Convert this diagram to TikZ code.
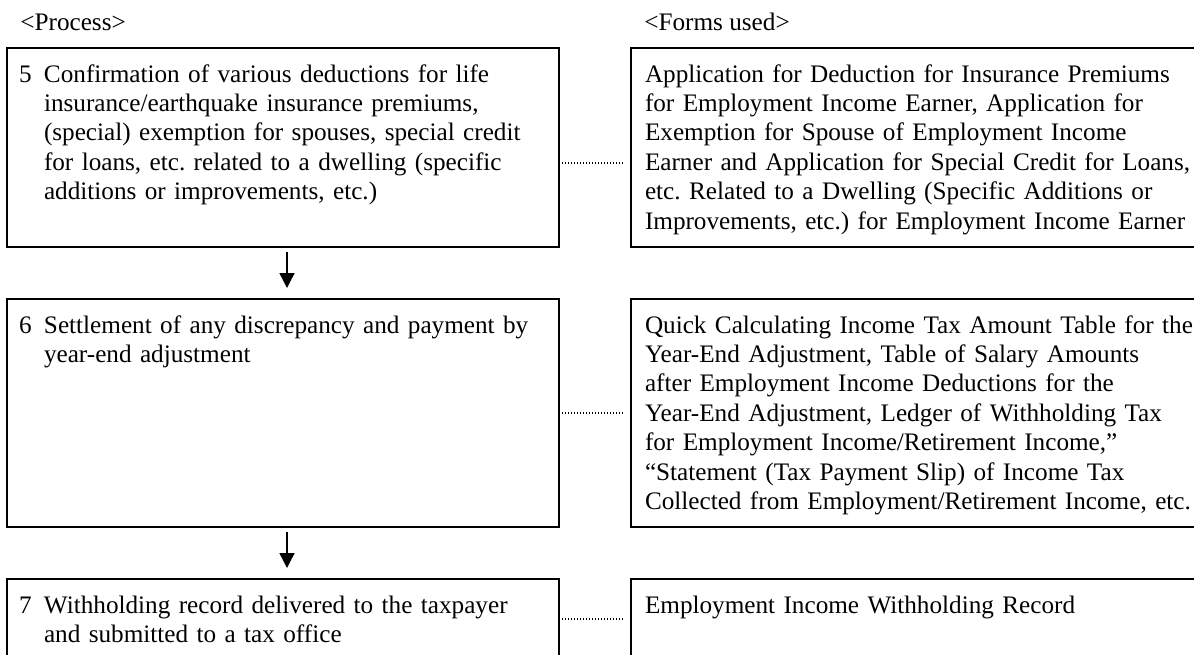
\documentclass[tikz,border=0pt]{standalone}
\usepackage{fontspec}
\setmainfont{Liberation Serif}
\usepackage{tikz}
\usetikzlibrary{positioning,arrows.meta,calc}
\frenchspacing
\newcommand{\stepno}[1]{\makebox[12.5pt][l]{#1}}
\tikzset{
  proc/.style={rectangle,draw=black,line width=1pt,align=left,anchor=north west,
    text width=264pt,inner xsep=6pt,inner ysep=7pt,text height=10pt,outer sep=0pt,
    font=\fontsize{12.6}{14.7}\selectfont,
    execute at begin node={\hangindent=12.5pt\hangafter=1\relax}},
  form/.style={rectangle,draw=black,line width=1pt,align=left,
    text width=300pt,inner xsep=7pt,inner ysep=7pt,text height=10pt,outer sep=0pt,
    font=\fontsize{12.6}{14.7}\selectfont},
  hdr/.style={anchor=base west,inner sep=0pt,font=\fontsize{12.6}{14.7}\selectfont},
  ar/.style={-{Triangle[width=7.5pt,length=7.5pt]},line width=0.7pt,draw=black},
  lnk/.style={line width=0.6pt,dash pattern=on 0.5pt off 1pt},
}
\begin{document}
\begin{tikzpicture}[node distance=26pt and 36pt]
  \useasboundingbox (0,0) rectangle (597pt,-327pt);
  \node[proc,text depth=75.5pt] (p5) at (3.5pt,-24pt) {\stepno{5}Confirmation of various deductions for life\newline
    insurance/earthquake insurance premiums,\newline
    (special) exemption for spouses, special credit\newline
    for loans, etc. related to a dwelling (specific\newline
    additions or improvements, etc.)};
  \node[form,text depth=75.5pt,right=of p5] (f5) {Application for Deduction for Insurance Premiums\\
    for Employment Income Earner, Application for\\
    Exemption for Spouse of Employment Income\\
    Earner and Application for Special Credit for Loans,\\
    etc. Related to a Dwelling (Specific Additions or\\
    Improvements, etc.) for Employment Income Earner};
  \node[proc,text depth=90pt,below=of p5] (p6) {\stepno{6}Settlement of any discrepancy and payment by\newline
    year-end adjustment};
  \node[form,text depth=90pt,right=of p6] (f6) {Quick Calculating Income Tax Amount Table for the\\
    Year-End Adjustment, Table of Salary Amounts\\
    after Employment Income Deductions for the\\
    Year-End Adjustment, Ledger of Withholding Tax\\
    for Employment Income/Retirement Income,”\\
    “Statement (Tax Payment Slip) of Income Tax\\
    Collected from Employment/Retirement Income, etc.};
  \node[proc,text depth=16pt,below=of p6] (p7) {\stepno{7}Withholding record delivered to the taxpayer\newline
    and submitted to a tax office};
  \node[form,text depth=16pt,right=of p7] (f7) {Employment Income Withholding Record};
  \node[hdr] (hproc) at ([shift={(6.5pt,8.8pt)}]p5.north west) {<Process>};
  \node[hdr] (hform) at ([shift={(6.5pt,8.8pt)}]f5.north west) {<Forms used>};
  \draw[ar,shorten <=2.5pt,shorten >=5.5pt] ([xshift=2pt]p5.south) -- ([xshift=2pt]p6.north);
  \draw[ar,shorten <=2.5pt,shorten >=5.5pt] ([xshift=2pt]p6.south) -- ([xshift=2pt]p7.north);
  \draw[lnk,shorten >=3.5pt] ([yshift=-7.75pt]p5.east) -- ([yshift=-7.75pt]f5.west);
  \draw[lnk,shorten >=3.5pt] (p6.east) -- (f6.west);
  \draw[lnk,shorten >=3.5pt] (p7.east) -- (f7.west);
\end{tikzpicture}
\end{document}
